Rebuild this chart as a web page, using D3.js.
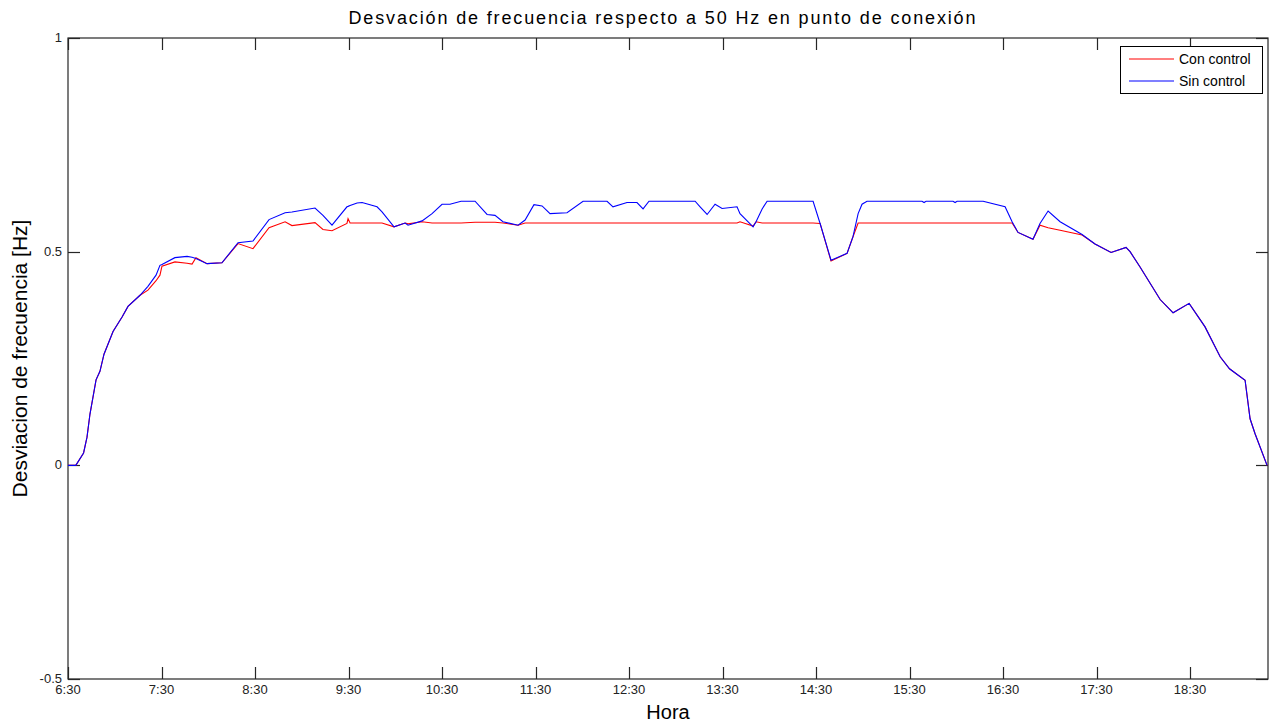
<!DOCTYPE html>
<html>
<head>
<meta charset="utf-8">
<script src="https://cdn.jsdelivr.net/npm/d3@7"></script>
<style>
  body { margin: 0; background: #fff; }
  svg { display: block; font-family: "Liberation Sans", Arial, sans-serif; }
</style>
</head>
<body>
<svg id="chart" width="1270" height="725"></svg>
<script>
// ---- data (time in minutes since midnight) ----
const minutes = [390, 395, 400, 402.2, 404.1, 408, 410.5, 413.1, 418.9, 424.7, 428.5, 436.2, 441.3, 446.5, 449.0, 450.3,
  458.6, 466.4, 469.6, 472.1, 479.2, 488.8, 499.1, 508.7, 519.0, 529.3, 533.7, 548.5, 553.6, 559.4, 569.0, 569.7,
  571.0, 575.5, 578.7, 588.3, 591.5, 599.2, 606.3, 608.2, 617.2, 623.6, 630.0, 635.1, 642.2, 651.2, 658.9, 664.0,
  669.1, 678.8, 683.3, 689.0, 694.2, 699.3, 710.2, 720.5, 735.9, 739.7, 748.7, 755.1, 759.0, 762.8, 792.4, 795.6,
  800.1, 805.2, 809.7, 819.3, 821.2, 829.6, 831.5, 835.4, 838.6, 868.1, 872.6, 879.6, 889.9, 893.7, 897.0, 899.5,
  902.7, 938.0, 939.3, 940.6, 957.9, 959.2, 960.5, 977.2, 991.3, 995.8, 999.6, 1009.2, 1013.7, 1018.9, 1026.6, 1040.7,
  1049.0, 1059.3, 1068.9, 1071.5, 1077.9, 1090.8, 1099.1, 1109.4, 1119.6, 1129.3, 1135.3, 1145.3, 1148.5, 1151.7, 1159.4];

const sinControl = [0, 0, 0.029, 0.066, 0.12, 0.20, 0.22, 0.26, 0.313, 0.347, 0.372, 0.398, 0.419, 0.445, 0.468, 0.470,
  0.486, 0.489, 0.487, 0.484, 0.472, 0.474, 0.521, 0.525, 0.575, 0.591, 0.593, 0.602, 0.585, 0.562, 0.605, 0.606,
  0.608, 0.614, 0.615, 0.605, 0.593, 0.558, 0.567, 0.562, 0.572, 0.589, 0.611, 0.611, 0.618, 0.618, 0.587, 0.585,
  0.570, 0.562, 0.574, 0.610, 0.607, 0.589, 0.591, 0.618, 0.618, 0.605, 0.615, 0.615, 0.600, 0.618, 0.618, 0.605,
  0.587, 0.611, 0.601, 0.605, 0.589, 0.558, 0.570, 0.600, 0.618, 0.618, 0.566, 0.480, 0.496, 0.535, 0.589, 0.611,
  0.618, 0.618, 0.615, 0.618, 0.618, 0.615, 0.618, 0.618, 0.605, 0.570, 0.545, 0.529, 0.566, 0.595, 0.570, 0.540,
  0.518, 0.498, 0.510, 0.500, 0.464, 0.388, 0.357, 0.379, 0.324, 0.254, 0.226, 0.199, 0.109, 0.074, 0];

const conControl = [0, 0, 0.029, 0.066, 0.12, 0.20, 0.22, 0.26, 0.313, 0.347, 0.372, 0.398, 0.41, 0.432, 0.445, 0.466,
  0.476, 0.473, 0.471, 0.486, 0.472, 0.474, 0.519, 0.507, 0.556, 0.570, 0.561, 0.568, 0.552, 0.549, 0.566, 0.577,
  0.567, 0.567, 0.567, 0.567, 0.567, 0.558, 0.567, 0.565, 0.570, 0.567, 0.567, 0.567, 0.567, 0.569, 0.569, 0.569,
  0.567, 0.562, 0.567, 0.567, 0.567, 0.567, 0.567, 0.567, 0.567, 0.567, 0.567, 0.567, 0.567, 0.567, 0.567, 0.567,
  0.567, 0.567, 0.567, 0.567, 0.570, 0.560, 0.570, 0.567, 0.567, 0.567, 0.566, 0.478, 0.496, 0.535, 0.567, 0.567,
  0.567, 0.567, 0.567, 0.567, 0.567, 0.567, 0.567, 0.567, 0.567, 0.567, 0.545, 0.529, 0.562, 0.556, 0.550, 0.539,
  0.518, 0.498, 0.510, 0.500, 0.464, 0.388, 0.357, 0.379, 0.324, 0.254, 0.226, 0.199, 0.109, 0.074, 0];

const xTickValues = [390, 450, 510, 570, 630, 690, 750, 810, 870, 930, 990, 1050, 1110];
const xTickLabels = ["6:30", "7:30", "8:30", "9:30", "10:30", "11:30", "12:30", "13:30", "14:30", "15:30", "16:30", "17:30", "18:30"];
const yTickValues = [-0.5, 0, 0.5, 1];
const yTickLabels = ["-0.5", "0", "0.5", "1"];
const seriesNames = ["Con control", "Sin control"];
const seriesColors = ["#ff0000", "#0000ff"];

const title = "Desvación de frecuencia respecto a 50 Hz en punto de conexión";
const xTitle = "Hora";
const yTitle = "Desviacion de frecuencia [Hz]";

// ---- layout ----
const svg = d3.select("#chart");
const L = 68, R = 1268, T = 38, B = 679;
const x = d3.scaleLinear().domain([390, 1160]).range([L, R]);
const y = d3.scaleLinear().domain([-0.5, 1]).range([B, T]);
const tickLen = 12;
const axisColor = "#262626";

// plot box
svg.append("rect").attr("x", L).attr("y", T).attr("width", R - L).attr("height", B - T)
  .attr("fill", "#fff").attr("stroke", axisColor).attr("stroke-width", 1.2);

// ticks (inside, on all four sides)
const tg = svg.append("g").attr("stroke", axisColor).attr("stroke-width", 1.2);
xTickValues.forEach(v => {
  const px = Math.round(x(v)) + 0.5;
  tg.append("line").attr("x1", px).attr("x2", px).attr("y1", B).attr("y2", B - tickLen);
  tg.append("line").attr("x1", px).attr("x2", px).attr("y1", T).attr("y2", T + tickLen);
});
yTickValues.forEach(v => {
  const py = Math.round(y(v)) + 0.5;
  tg.append("line").attr("x1", L).attr("x2", L + tickLen).attr("y1", py).attr("y2", py);
  tg.append("line").attr("x1", R).attr("x2", R - tickLen).attr("y1", py).attr("y2", py);
});

// tick labels
const lg = svg.append("g").attr("font-size", 13).attr("fill", "#222");
xTickValues.forEach((v, i) => {
  lg.append("text").attr("x", x(v)).attr("y", B + 15).attr("text-anchor", "middle").text(xTickLabels[i]);
});
yTickValues.forEach((v, i) => {
  lg.append("text").attr("x", L - 6).attr("y", y(v) + 4).attr("text-anchor", "end").text(yTickLabels[i]);
});

// lines
const series = [conControl, sinControl];
const line = d3.line().x(d => x(d[0])).y(d => y(d[1]));
series.forEach((vals, k) => {
  const pts = minutes.map((m, i) => [m, vals[i]]);
  svg.append("path").attr("d", line(pts)).attr("fill", "none")
    .attr("stroke", seriesColors[k]).attr("stroke-width", 1.1);
});

// titles
svg.append("text").attr("x", 662).attr("y", 24).attr("text-anchor", "middle")
  .attr("font-size", 18).attr("fill", "#000")
  .attr("textLength", 627).attr("lengthAdjust", "spacing").text(title);
svg.append("text").attr("x", (L + R) / 2).attr("y", 719).attr("text-anchor", "middle")
  .attr("font-size", 20).attr("fill", "#000").text(xTitle);
svg.append("text").attr("transform", `translate(27,${(T + B) / 2}) rotate(-90)`).attr("text-anchor", "middle")
  .attr("font-size", 21).attr("fill", "#000").text(yTitle);

// legend
const lgx = 1120, lgy = 46, lgw = 142, lgh = 47;
svg.append("rect").attr("x", lgx + 0.5).attr("y", lgy + 0.5).attr("width", lgw).attr("height", lgh)
  .attr("fill", "#fff").attr("stroke", "#000").attr("stroke-width", 1);
seriesNames.forEach((name, i) => {
  const yy = lgy + 13 + i * 22;
  svg.append("line").attr("x1", lgx + 9).attr("x2", lgx + 54).attr("y1", yy).attr("y2", yy)
    .attr("stroke", seriesColors[i]).attr("stroke-width", 1.1);
  svg.append("text").attr("x", lgx + 59).attr("y", yy + 5).attr("font-size", 14).attr("fill", "#000").text(name);
});
</script>
</body>
</html>
